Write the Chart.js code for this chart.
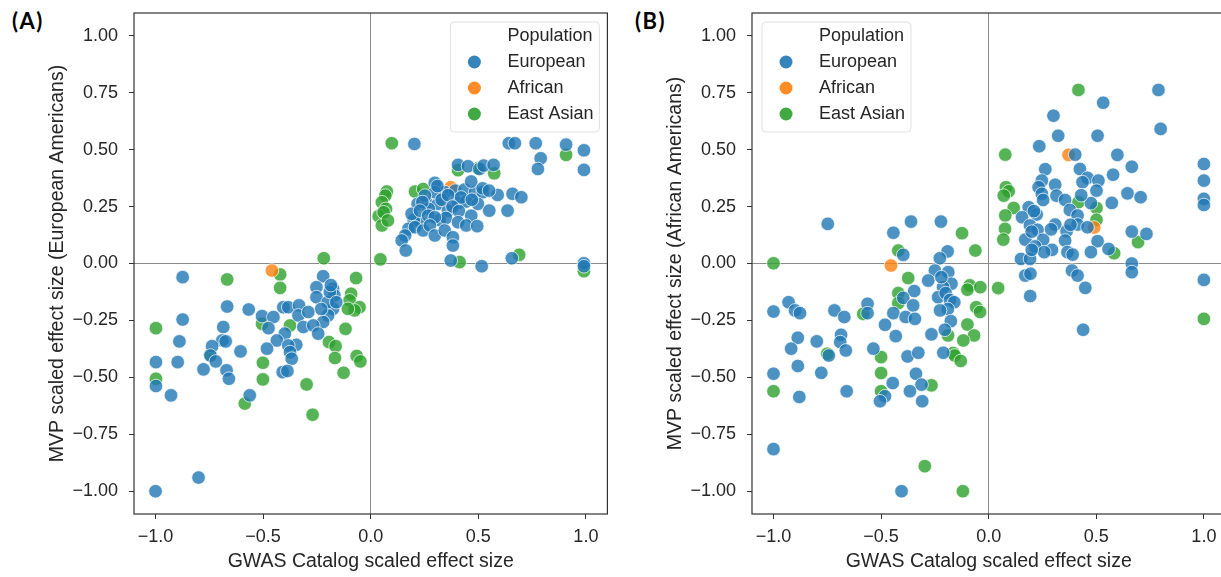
<!DOCTYPE html>
<html>
<head>
<meta charset="utf-8">
<script src="https://cdn.jsdelivr.net/npm/chart.js@4"></script>
<style>
  html, body { margin: 0; padding: 0; background: #fff; overflow: hidden; width: 1221px; height: 577px; }
  .panel { position: absolute; top: 0; width: 615px; height: 577px; }
  .tag { position: absolute; font: bold 22px Lato, "Open Sans", sans-serif; line-height: 22px; letter-spacing: 1.5px; color: #000; }
</style>
</head>
<body>
<div class="tag" style="left:12px;top:10px">(A)</div>
<div class="tag" style="left:635px;top:10px">(B)</div>
<div class="panel" style="left:0px"><canvas id="chartA" width="615" height="577"></canvas></div>
<div class="panel" style="left:618px"><canvas id="chartB" width="615" height="577"></canvas></div>
<script>
// labels
var populations = ['European', 'African', 'East Asian'];
var popColors = ['31,119,180', '255,127,14', '44,160,44'];
var legendTitle = 'Population';
var xTitle = 'GWAS Catalog scaled effect size';
var yTitleA = 'MVP scaled effect size (European Americans)';
var yTitleB = 'MVP scaled effect size (African Americans)';
var xTicks = [-1, -0.5, 0, 0.5, 1];
var yTicks = [-1, -0.75, -0.5, -0.25, 0, 0.25, 0.5, 0.75, 1];

// panel A : [GWAS, MVP EA]
var europeanA = [
  [0.203,0.525],[0.642,0.528],[0.670,0.528],[0.767,0.528],[0.908,0.522],[0.991,0.497],[0.991,0.411],[0.79,0.462],[0.777,0.415],
  [0.406,0.433],[0.452,0.427],[0.505,0.415],[0.525,0.43],[0.571,0.433],
  [0.298,0.354],[0.344,0.313],[0.393,0.32],[0.436,0.325],[0.485,0.313],[0.521,0.313],[0.59,0.301],[0.659,0.306],[0.7,0.291],[0.467,0.36],
  [0.218,0.262],[0.26,0.266],[0.313,0.262],[0.359,0.232],[0.406,0.266],[0.444,0.272],[0.498,0.262],[0.551,0.232],[0.636,0.232],
  [0.298,0.313],[0.252,0.298],[0.33,0.28],[0.36,0.3],[0.42,0.29],[0.38,0.25],[0.27,0.24],[0.32,0.19],[0.23,0.18],[0.35,0.2],
  [0.41,0.23],[0.2,0.19],[0.24,0.27],[0.31,0.34],[0.52,0.33],[0.47,0.28],[0.55,0.32],
  [0.19,0.218],[0.229,0.232],[0.267,0.21],[0.298,0.203],[0.406,0.181],[0.467,0.21],[0.444,0.167],[0.495,0.164],
  [0.175,0.152],[0.206,0.159],[0.244,0.145],[0.275,0.167],[0.298,0.123],[0.344,0.145],[0.382,0.115],[0.16,0.123],[0.144,0.101],[0.163,0.057],[0.382,0.079],
  [0.372,0.013],[0.516,-0.012],[0.656,0.023],[0.991,0.001],[0.991,-0.012],
  [-0.874,-0.06],[-0.221,-0.056],[-0.252,-0.104],[-0.175,-0.111],[-0.252,-0.148],[-0.169,-0.14],[-0.175,-0.199],[-0.198,-0.228],[-0.221,-0.257],
  [-0.2,-0.17],[-0.19,-0.125],[-0.16,-0.17],[-0.23,-0.2],[-0.185,-0.095],
  [-0.667,-0.189],[-0.567,-0.202],[-0.505,-0.231],[-0.452,-0.235],[-0.406,-0.192],[-0.383,-0.192],[-0.333,-0.184],[-0.336,-0.228],[-0.29,-0.213],
  [-0.313,-0.279],[-0.267,-0.272],[-0.244,-0.308],
  [-0.475,-0.284],[-0.399,-0.308],[-0.346,-0.357],[-0.436,-0.338],[-0.383,-0.36],[-0.375,-0.389],[-0.482,-0.374],[-0.367,-0.418],[-0.409,-0.477],[-0.387,-0.472],
  [-0.874,-0.246],[-0.685,-0.279],[-0.69,-0.338],[-0.674,-0.342],[-0.737,-0.363],[-0.605,-0.386],[-0.745,-0.404],[-0.72,-0.43],[-0.889,-0.342],
  [-0.998,-0.433],[-0.897,-0.433],[-0.777,-0.465],[-0.67,-0.469],[-0.659,-0.506],[-0.998,-0.538],[-0.928,-0.579],[-0.562,-0.579],[-1.0,-1.0],[-0.8,-0.94]
];
var africanA = [[0.372,0.335],[-0.459,-0.031]];
var eastAsianA = [
  [0.098,0.528],[0.908,0.477],[0.498,0.418],[0.574,0.396],[0.406,0.41],[0.206,0.316],[0.244,0.327],[0.075,0.316],[0.068,0.298],[0.052,0.269],
  [0.071,0.24],[0.037,0.208],[0.06,0.225],[0.052,0.167],[0.08,0.189],[0.045,0.018],[0.413,0.006],[0.69,0.038],[0.991,-0.034],
  [-0.667,-0.07],[-0.421,-0.048],[-0.421,-0.107],[-0.218,0.023],[-0.068,-0.064],[-0.091,-0.133],[-0.098,-0.162],[-0.052,-0.192],[-0.075,-0.206],
  [-0.106,-0.199],[-0.505,-0.265],[-0.375,-0.272],[-0.998,-0.284],[-0.998,-0.506],[-0.585,-0.615],[-0.501,-0.436],[-0.501,-0.509],[-0.298,-0.531],
  [-0.27,-0.664],[-0.194,-0.345],[-0.163,-0.363],[-0.166,-0.415],[-0.126,-0.48],[-0.117,-0.287],[-0.065,-0.406],[-0.048,-0.43],[-0.745,-0.4]
];

// panel B : [GWAS, MVP AA]
var europeanB = [
  [0.789,0.762],[0.532,0.706],[0.301,0.649],[0.799,0.591],[0.323,0.561],[0.506,0.561],[0.235,0.515],[0.402,0.478],[0.598,0.477],[0.665,0.425],
  [0.263,0.414],[0.424,0.415],[1.0,0.437],[1.0,0.364],[1.0,0.284],[1.0,0.257],
  [0.578,0.39],[0.459,0.376],[0.51,0.364],[0.436,0.357],[0.247,0.364],[0.232,0.335],[0.309,0.346],[0.501,0.32],[0.645,0.308],[0.706,0.291],
  [0.247,0.306],[0.253,0.279],[0.315,0.298],[0.355,0.279],[0.475,0.265],[0.572,0.266],
  [0.186,0.247],[0.223,0.215],[0.377,0.235],[0.155,0.203],[0.413,0.211],[0.192,0.167],[0.227,0.148],[0.309,0.171],[0.413,0.171],[0.459,0.159],
  [0.362,0.142],[0.17,0.105],[0.253,0.104],[0.355,0.101],[0.294,0.06],[0.216,0.075],[0.258,0.05],[0.366,0.05],[0.39,0.039],[0.506,0.098],
  [0.475,0.05],[0.557,0.064],[0.665,0.14],[0.733,0.13],[0.15,0.02],[0.192,0.02],[0.665,0.0],
  [0.2,0.14],[0.21,0.23],[0.29,0.15],[0.38,0.17],[0.43,0.3],[0.2,0.06],
  [0.17,-0.053],[0.194,-0.045],[0.193,-0.143],[0.387,-0.031],[0.413,-0.053],[0.449,-0.107],[0.439,-0.291],[0.665,-0.038],[1.0,-0.072],
  [-0.748,0.174],[-0.361,0.184],[-0.222,0.184],[-0.443,0.135],[-0.397,0.038],[-0.191,0.053],[-0.227,0.023],[-0.25,-0.031],[-0.281,-0.075],
  [-0.188,-0.038],[-0.173,-0.089],[-0.346,-0.121],[-0.397,-0.151],[-0.351,-0.184],[-0.212,-0.104],[-0.235,-0.148],[-0.2,-0.13],[-0.18,-0.16],
  [-0.16,-0.17],[-0.19,-0.2],[-0.22,-0.06],
  [-0.93,-0.17],[-1.0,-0.211],[-0.9,-0.206],[-0.877,-0.218],[-0.717,-0.206],[-0.671,-0.235],[-0.563,-0.177],[-0.563,-0.218],[-0.443,-0.218],
  [-0.386,-0.235],[-0.343,-0.243],[-0.482,-0.269],[-0.432,-0.319],[-0.226,-0.206],[-0.176,-0.253],[-0.266,-0.311],[-0.204,-0.291],
  [-0.887,-0.326],[-0.799,-0.342],[-0.918,-0.374],[-0.686,-0.313],[-0.69,-0.345],[-0.664,-0.382],[-0.743,-0.404],[-0.536,-0.374],[-0.377,-0.408],
  [-0.327,-0.392],[-0.211,-0.392],
  [-0.887,-0.45],[-1.0,-0.484],[-0.778,-0.48],[-0.338,-0.484],[-0.312,-0.532],[-0.446,-0.525],[-0.88,-0.586],[-0.66,-0.561],[-0.482,-0.583],
  [-0.505,-0.605],[-0.366,-0.561],[-0.309,-0.605],[-1.0,-0.815],[-0.405,-1.0]
];
var africanB = [[0.371,0.477],[0.49,0.158],[-0.454,-0.009]];
var eastAsianB = [
  [0.417,0.762],[0.077,0.478],[0.417,0.269],[0.501,0.244],[0.501,0.192],[0.08,0.335],[0.093,0.317],[0.07,0.298],[0.116,0.244],[0.077,0.211],
  [0.076,0.152],[0.068,0.105],[-0.124,0.133],[-0.062,0.057],[0.583,0.045],[0.694,0.094],[0.044,-0.108],[1.0,-0.243],
  [-1.0,0.001],[-0.42,0.057],[-0.374,-0.064],[-0.088,-0.096],[-0.099,-0.115],[-0.039,-0.104],[-0.42,-0.13],[-0.42,-0.174],[-0.058,-0.192],
  [-0.04,-0.213],[-0.583,-0.221],[-0.099,-0.268],[-0.189,-0.316],[-0.068,-0.316],[-0.118,-0.338],[-0.75,-0.396],[-0.5,-0.411],[-0.165,-0.393],
  [-0.158,-0.404],[-0.13,-0.428],[-0.5,-0.481],[-0.266,-0.535],[-1.0,-0.561],[-0.5,-0.561],[-0.297,-0.89],[-0.12,-1.0]
];

var txt = '#262626';
var sans = '"Liberation Sans", Arial, sans-serif';

function fmt(v, d) {
  return v.toFixed(d).replace('-', '\u2212');
}

// box round the plot (zero lines come from grid)
var framePlugin = {
  id: 'frame',
  afterDatasetsDraw: function(chart) {
    var a = chart.chartArea, ctx = chart.ctx;
    ctx.save();
    ctx.strokeStyle = '#333';
    ctx.lineWidth = 1.2;
    ctx.strokeRect(a.left, a.top, a.right - a.left, a.bottom - a.top);
    ctx.restore();
  }
};

// seaborn style legend with title inside the axes
var popLegend = {
  id: 'popLegend',
  afterDraw: function(chart, args, opts) {
    var ctx = chart.ctx, a = chart.chartArea;
    var w = 149, h = 110;
    var left = opts.side === 'left' ? a.left + 10 : a.right - 8 - w;
    var top = a.top + 9;
    ctx.save();
    ctx.beginPath();
    ctx.roundRect(left, top, w, h, 4);
    ctx.fillStyle = 'rgba(255,255,255,0.85)';
    ctx.fill();
    ctx.strokeStyle = '#e0e0e0';
    ctx.lineWidth = 1;
    ctx.stroke();
    ctx.font = '18px ' + sans;
    ctx.textBaseline = 'middle';
    ctx.fillStyle = txt;
    ctx.fillText(legendTitle, left + 57, top + 14);
    for (var i = 0; i < populations.length; i++) {
      var y = top + 40 + i * 26;
      ctx.beginPath();
      ctx.arc(left + 24, y, 6.5, 0, Math.PI * 2);
      ctx.fillStyle = 'rgba(' + popColors[i] + ',0.9)';
      ctx.fill();
      ctx.fillStyle = txt;
      ctx.fillText(populations[i], left + 57, y);
    }
    ctx.restore();
  }
};

function toXY(arr) {
  return arr.map(function(p) { return {x: p[0], y: p[1]}; });
}

function zeroGrid(c) {
  return c.tick && c.tick.value === 0 ? '#8a8a8a' : 'rgba(0,0,0,0)';
}

function makeChart(id, yTitle, series, side) {
  var datasets = [];
  for (var i = 0; i < populations.length; i++) {
    datasets.push({
      label: populations[i],
      data: toXY(series[i]),
      backgroundColor: 'rgba(' + popColors[i] + ',0.8)',
      borderColor: 'rgba(255,255,255,0.9)',
      borderWidth: 0.8,
      pointRadius: 6.8
    });
  }
  return new Chart(document.getElementById(id), {
    type: 'scatter',
    data: {datasets: datasets},
    options: {
      responsive: false,
      animation: false,
      layout: {padding: {top: 13, right: 6, left: 0, bottom: 0}},
      plugins: {legend: {display: false}, tooltip: {enabled: false}, popLegend: {side: side}},
      scales: {
        x: {
          type: 'linear', min: -1.1, max: 1.1,
          afterBuildTicks: function(s) { s.ticks = xTicks.map(function(v) { return {value: v}; }); },
          afterFit: function(s) { s.height = 63; s.paddingLeft = 0; s.paddingRight = 0; },
          ticks: {callback: function(v) { return fmt(v, 1); }, color: txt, padding: 7, font: {size: 18, family: sans}, maxRotation: 0},
          grid: {color: zeroGrid, tickColor: '#333', tickLength: 5, lineWidth: 1},
          border: {display: false},
          title: {display: true, text: xTitle, color: txt, font: {size: 19.5, family: sans}, padding: {top: 0, bottom: 4}}
        },
        y: {
          type: 'linear', min: -1.1, max: 1.1,
          afterBuildTicks: function(s) { s.ticks = yTicks.map(function(v) { return {value: v}; }); },
          afterFit: function(s) { s.width = 134; s.paddingTop = 0; s.paddingBottom = 0; },
          ticks: {callback: function(v) { return fmt(v, 2); }, color: txt, padding: 11, font: {size: 18, family: sans}},
          grid: {color: zeroGrid, tickColor: '#333', tickLength: 5, lineWidth: 1},
          border: {display: false},
          title: {display: true, text: yTitle, color: txt, font: {size: 19.5, family: sans}, padding: {top: 46, bottom: 0}}
        }
      }
    },
    plugins: [framePlugin, popLegend]
  });
}

makeChart('chartA', yTitleA, [europeanA, africanA, eastAsianA], 'right');
makeChart('chartB', yTitleB, [europeanB, africanB, eastAsianB], 'left');
</script>
</body>
</html>
